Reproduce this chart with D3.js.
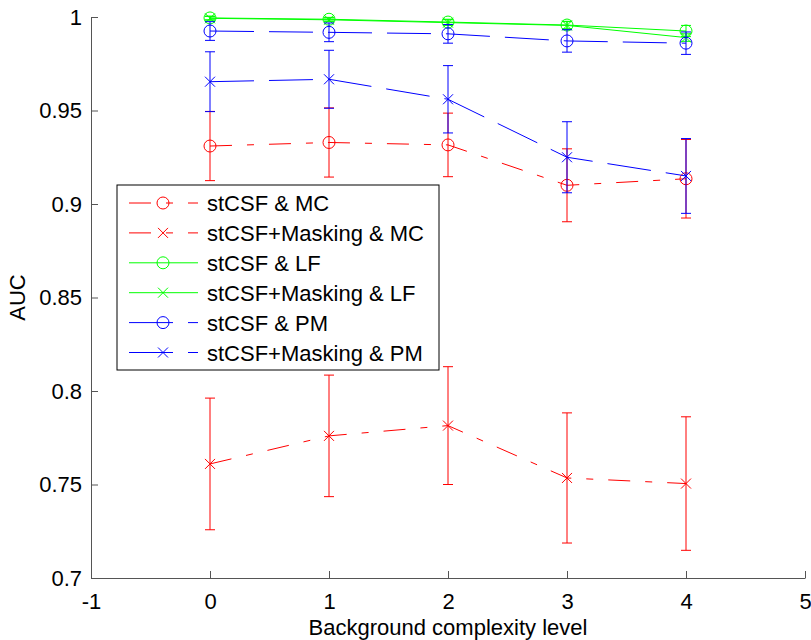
<!DOCTYPE html>
<html>
<head>
<meta charset="utf-8">
<title>AUC vs background complexity</title>
<script src="https://cdn.jsdelivr.net/npm/d3@7"></script>
<style>
  body { margin: 0; background: #fff; }
  text { font-family: 'Liberation Sans', Arial, sans-serif; font-size: 22px; fill: #000; }
  .axis path, .axis line { stroke: #555; }
</style>
</head>
<body>
<div id="chart"></div>
<script>
// complexity levels
var levels = [0, 1, 2, 3, 4];

// AUC means and error half-widths
var mcVals      = [0.931, 0.9329, 0.9316, 0.910, 0.9135];
var mcErr       = [0.0185, 0.0185, 0.017, 0.0195, 0.021];
var mcMaskVals  = [0.761, 0.776, 0.7815, 0.7535, 0.7505];
var mcMaskErr   = [0.0352, 0.0325, 0.0315, 0.0348, 0.0357];
var lfVals      = [0.9995, 0.9988, 0.9973, 0.9957, 0.9925];
var lfErr       = [0.001, 0.001, 0.0015, 0.002, 0.003];
var lfMaskVals  = [0.9993, 0.9985, 0.997, 0.9955, 0.989];
var lfMaskErr   = [0.001, 0.001, 0.0015, 0.002, 0.002];
var pmVals      = [0.9925, 0.9918, 0.991, 0.9872, 0.986];
var pmErr       = [0.005, 0.005, 0.005, 0.006, 0.006];
var pmMaskVals  = [0.9654, 0.9667, 0.956, 0.925, 0.915];
var pmMaskErr   = [0.016, 0.0155, 0.018, 0.019, 0.02];

var xTicks = [-1, 0, 1, 2, 3, 4, 5];
var yTicks = [0.7, 0.75, 0.8, 0.85, 0.9, 0.95, 1];

var series = [
  {name: "stCSF & MC",            vals: mcVals,     err: mcErr,     color: "#ff0000", marker: "o", dash: "22,15,7,15"},
  {name: "stCSF+Masking & MC",    vals: mcMaskVals, err: mcMaskErr, color: "#ff0000", marker: "x", dash: "22,15,7,15"},
  {name: "stCSF & LF",            vals: lfVals,     err: lfErr,     color: "#00ff00", marker: "o", dash: null},
  {name: "stCSF+Masking & LF",    vals: lfMaskVals, err: lfMaskErr, color: "#00ff00", marker: "x", dash: null},
  {name: "stCSF & PM",            vals: pmVals,     err: pmErr,     color: "#0000ff", marker: "o", dash: "44,15"},
  {name: "stCSF+Masking & PM",    vals: pmMaskVals, err: pmMaskErr, color: "#0000ff", marker: "x", dash: "44,15"}
];

var W = 811, H = 640;
var margin = {left: 91, right: 6, top: 17, bottom: 62};

var svg = d3.select("#chart").append("svg")
    .attr("width", W)
    .attr("height", H);

var x = d3.scaleLinear().domain([-1, 5]).range([margin.left, W - margin.right]);
var y = d3.scaleLinear().domain([0.7, 1]).range([H - margin.bottom, margin.top]);

// axes (box off, ticks inward)
svg.append("g")
    .attr("class", "axis")
    .attr("transform", "translate(0," + y(0.7) + ")")
    .call(d3.axisBottom(x).tickValues(xTicks).tickSizeInner(-7).tickSizeOuter(0).tickPadding(15)
      .tickFormat(function(d){ return String(d); }))
    .call(function(g){ g.attr("font-size", null).attr("font-family", null); });

svg.append("g")
    .attr("class", "axis")
    .attr("transform", "translate(" + x(-1) + ",0)")
    .call(d3.axisLeft(y).tickValues(yTicks).tickSizeInner(-7).tickSizeOuter(0).tickPadding(9)
      .tickFormat(function(d){ return String(+d.toFixed(2)); }))
    .call(function(g){ g.attr("font-size", null).attr("font-family", null); });

svg.append("text")
    .attr("x", (x(-1) + x(5)) / 2)
    .attr("y", H - 5)
    .attr("text-anchor", "middle")
    .text("Background complexity level");

svg.append("text")
    .attr("transform", "translate(25," + ((y(0.7) + y(1)) / 2) + ") rotate(-90)")
    .attr("text-anchor", "middle")
    .text("AUC");

var line = d3.line().x(function(d){ return x(d[0]); }).y(function(d){ return y(d[1]); });

function drawMarker(g, kind, cx, cy, color) {
  if (kind === "o") {
    g.append("circle").attr("cx", cx).attr("cy", cy).attr("r", 6)
      .attr("fill", "none").attr("stroke", color).attr("stroke-width", 1);
  } else {
    var s = 5;
    g.append("path")
      .attr("d", "M" + (cx - s) + "," + (cy - s) + "L" + (cx + s) + "," + (cy + s) +
                 "M" + (cx - s) + "," + (cy + s) + "L" + (cx + s) + "," + (cy - s))
      .attr("stroke", color).attr("stroke-width", 1).attr("fill", "none");
  }
}

var plot = svg.append("g");
series.forEach(function(s) {
  var g = plot.append("g");
  var pts = levels.map(function(l, i){ return [l, s.vals[i]]; });
  g.append("path")
    .attr("d", line(pts))
    .attr("fill", "none")
    .attr("stroke", s.color)
    .attr("stroke-width", 1)
    .attr("stroke-dasharray", s.dash);
  // error bars
  levels.forEach(function(l, i) {
    var cx = x(l), hi = y(s.vals[i] + s.err[i]), lo = y(s.vals[i] - s.err[i]);
    g.append("path")
      .attr("d", "M" + cx + "," + hi + "V" + lo +
                 "M" + (cx - 5) + "," + hi + "H" + (cx + 5) +
                 "M" + (cx - 5) + "," + lo + "H" + (cx + 5))
      .attr("stroke", s.color).attr("stroke-width", 1).attr("fill", "none");
    drawMarker(g, s.marker, cx, y(s.vals[i]), s.color);
  });
});

// legend
var leg = svg.append("g").attr("transform", "translate(117,185)");
leg.append("rect")
    .attr("width", 322).attr("height", 185)
    .attr("fill", "#fff").attr("stroke", "#000").attr("stroke-width", 1);
series.forEach(function(s, i) {
  var ly = 18 + i * 29.9;
  leg.append("path")
    .attr("d", "M12," + ly + "H81")
    .attr("stroke", s.color).attr("stroke-width", 1)
    .attr("stroke-dasharray", s.dash);
  drawMarker(leg, s.marker, 46, ly, s.color);
  leg.append("text")
    .attr("x", 90).attr("y", ly + 8)
    .text(s.name);
});
</script>
</body>
</html>
